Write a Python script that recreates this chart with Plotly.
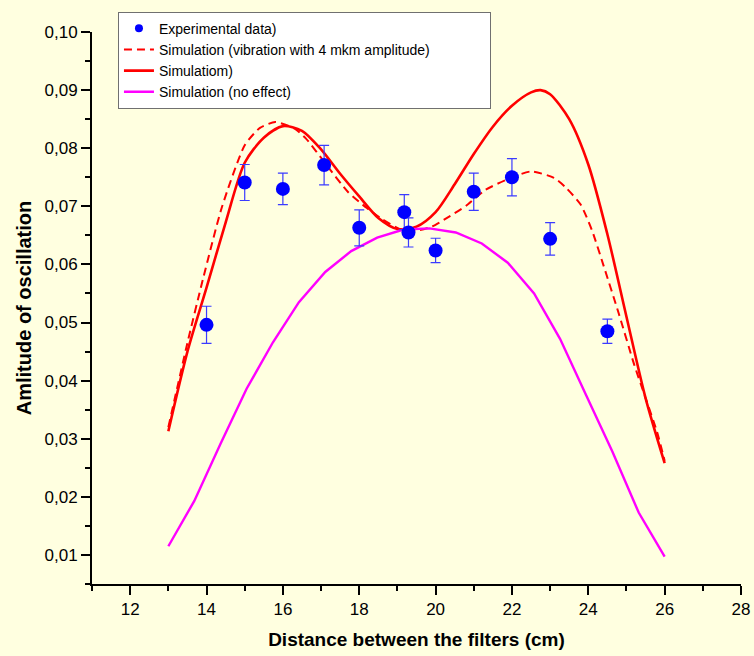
import plotly.graph_objects as go

# Experimental amplitude vs. filter spacing
exp_x = [14.0, 15.0, 16.0, 17.08, 18.0, 19.18, 19.29, 20.0, 21.0, 22.0, 23.0, 24.5]
exp_y = [0.0496, 0.0741, 0.0730, 0.0771, 0.0663, 0.0690, 0.0655, 0.0624, 0.0725, 0.0750, 0.0644, 0.0485]
exp_err = [0.0032, 0.0031, 0.0027, 0.0034, 0.0031, 0.0030, 0.0025, 0.0021, 0.0032, 0.0032, 0.0028, 0.0021]

# Simulation with 4 mkm vibration amplitude
vib_x = [13.0, 13.5, 13.9, 14.4, 15.0, 15.4, 15.8, 16.3, 16.6, 17.1, 17.7, 18.2, 18.6, 19.1,
         19.5, 19.9, 20.3, 20.8, 21.3, 21.9, 22.5, 23.1, 23.4, 23.8, 24.1, 24.4, 24.8, 25.2,
         25.5, 25.8, 26.0]
vib_y = [0.0320, 0.0465, 0.0573, 0.0698, 0.0805, 0.0835, 0.0845, 0.0834, 0.0817, 0.0775,
         0.0725, 0.0697, 0.0678, 0.0660, 0.0658, 0.0665, 0.0680, 0.0701, 0.0728, 0.0747,
         0.0760, 0.0749, 0.0733, 0.0703, 0.0658, 0.0598, 0.0515, 0.0428, 0.0370, 0.0312,
         0.0262]

# Simulation
sim_x = [13.0, 13.5, 14.0, 14.5, 15.0, 15.5, 16.0, 16.5, 17.0, 17.5, 18.0, 18.5, 19.0, 19.5,
         20.0, 20.5, 21.0, 21.5, 22.0, 22.5, 22.75, 23.0, 23.5, 24.0, 24.5, 25.0, 25.5, 26.0]
sim_y = [0.0313, 0.0450, 0.0560, 0.0672, 0.0775, 0.0818, 0.0838, 0.0830, 0.0798, 0.0756,
         0.0717, 0.0680, 0.0661, 0.0665, 0.0690, 0.0738, 0.0790, 0.0837, 0.0873, 0.0896,
         0.0900, 0.0893, 0.0850, 0.0772, 0.0652, 0.0510, 0.0370, 0.0258]

# Simulation without the effect
noeff_x = [13.00, 13.68, 14.37, 15.05, 15.74, 16.42, 17.11, 17.79, 18.47, 19.16,
           19.84, 20.53, 21.21, 21.89, 22.58, 23.26, 23.95, 24.63, 25.32, 26.00]
noeff_y = [0.0115, 0.0193, 0.0292, 0.0386, 0.0466, 0.0535, 0.0587, 0.0623, 0.0646, 0.0660,
           0.0662, 0.0655, 0.0636, 0.0603, 0.0550, 0.0472, 0.0374, 0.0278, 0.0173, 0.0097]

x_ticks = [12, 14, 16, 18, 20, 22, 24, 26, 28]

BG = "#FFFFE0"
FONT = "Arial, Liberation Sans, sans-serif"
PAD = "&nbsp;" * 14  # widen the legend box a little past the longest entry

fig = go.Figure()

# legend-only entry for the measured points (small dot, no error bar)
fig.add_trace(go.Scatter(
    x=[None], y=[None], mode="markers", name="Experimental data)",
    marker=dict(color="#0000FF", size=8), legendrank=1,
))
fig.add_trace(go.Scatter(
    x=vib_x, y=vib_y, mode="lines",
    name="Simulation (vibration with 4 mkm amplitude)" + PAD,
    line=dict(color="#FF0000", width=2, dash="8px,5px", shape="spline", smoothing=0.6),
    legendrank=2,
))
fig.add_trace(go.Scatter(
    x=sim_x, y=sim_y, mode="lines", name="Simulatiom)",
    line=dict(color="#FF0000", width=2.6, shape="spline", smoothing=0.8),
    legendrank=3,
))
fig.add_trace(go.Scatter(
    x=noeff_x, y=noeff_y, mode="lines", name="Simulation (no effect)",
    line=dict(color="#FF00FF", width=2.4), legendrank=4,
))
fig.add_trace(go.Scatter(
    x=exp_x, y=exp_y, mode="markers", showlegend=False,
    marker=dict(color="#0000FF", size=14),
    error_y=dict(type="data", array=exp_err, visible=True,
                 color="#3B3BFF", thickness=1.2, width=5),
))

axis_common = dict(
    showline=True, linecolor="black", linewidth=2,
    ticks="outside", ticklen=9, tickwidth=2, tickcolor="black",
    showgrid=False, zeroline=False, mirror=False, automargin=False,
    tickfont=dict(family=FONT, size=17, color="black"),
)

fig.update_xaxes(
    range=[11, 28], tickvals=x_ticks,
    minor=dict(dtick=1, tick0=0, ticks="outside", ticklen=5, tickwidth=2, tickcolor="black"),
    title=dict(text="<b>Distance between the filters (cm)</b>",
               font=dict(family=FONT, size=19, color="black"), standoff=14),
    **axis_common,
)
fig.update_yaxes(
    range=[0.005, 0.1], tick0=0, dtick=0.01, tickformat=".2f",
    minor=dict(dtick=0.005, tick0=0, ticks="outside", ticklen=5, tickwidth=2, tickcolor="black"),
    title=dict(text="<b>Amlitude of oscillation</b>",
               font=dict(family=FONT, size=20, color="black"), standoff=8),
    **axis_common,
)

fig.update_layout(
    width=754, height=656,
    margin=dict(l=92, r=13, t=25, b=72),
    paper_bgcolor=BG, plot_bgcolor=BG,
    separators=",.",
    font=dict(family=FONT, color="black"),
    legend=dict(
        x=0.04, y=1.037, xanchor="left", yanchor="top",
        bgcolor="white", bordercolor="#707070", borderwidth=1,
        font=dict(family=FONT, size=14, color="black"),
        tracegroupgap=0, itemwidth=30,
    ),
)

fig.write_html("out.html")
